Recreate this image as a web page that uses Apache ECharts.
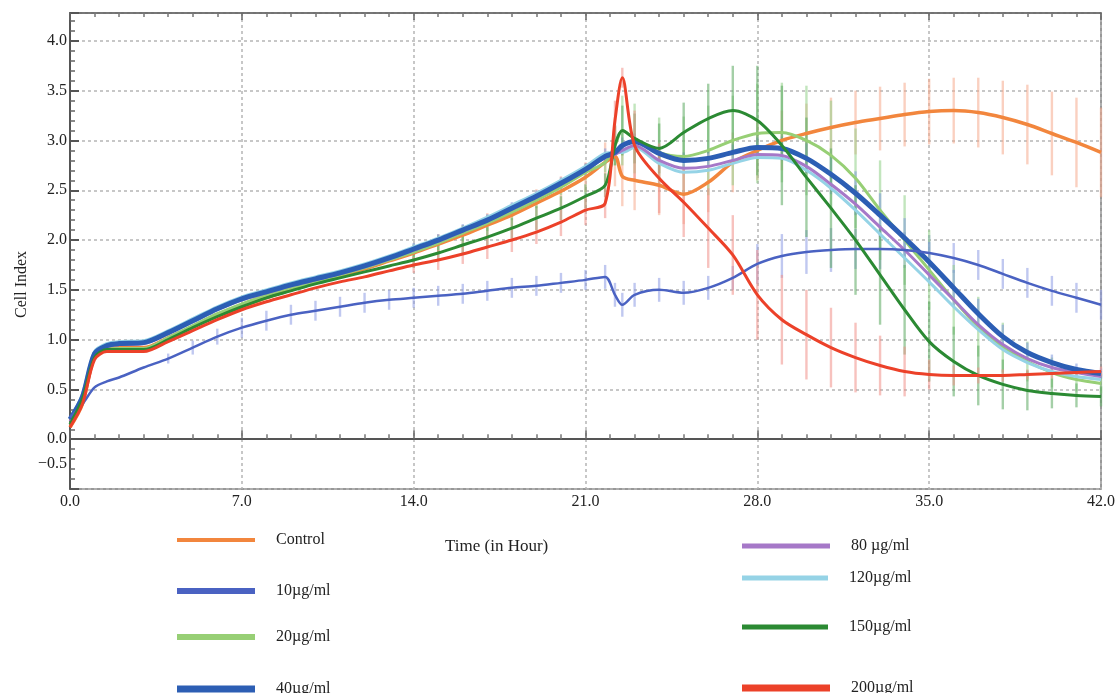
<!DOCTYPE html>
<html>
<head>
<meta charset="utf-8">
<script src="https://cdn.jsdelivr.net/npm/echarts@6/dist/echarts.min.js"></script>
<style>
  html, body { margin: 0; padding: 0; background: #fff; }
  #chart { width: 1118px; height: 693px; }
</style>
</head>
<body>
<div id="chart"></div>
<script>
// time points (hours)
var hours = [0, 0.5, 1, 1.5, 2, 3, 4, 5, 6, 7, 8, 9, 10, 11, 12, 13, 14, 15, 16, 17, 18, 19, 20, 21,
  21.8, 22.2, 22.5, 23, 24, 25, 26, 27, 28, 29, 30, 31, 32, 33, 34, 35, 36, 37, 38, 39, 40, 41, 42];

var xTicks = [0, 7, 14, 21, 28, 35, 42];
var yTicks = [-0.5, 0, 0.5, 1, 1.5, 2, 2.5, 3, 3.5, 4];

// cell index per group
var control = [0.12, 0.35, 0.83, 0.92, 0.93, 0.92, 1.02, 1.13, 1.24, 1.33, 1.42, 1.5, 1.57, 1.64, 1.71, 1.79, 1.87, 1.96, 2.05, 2.15, 2.25, 2.37, 2.49, 2.63,
  2.78, 2.84, 2.64, 2.6, 2.55, 2.46, 2.58, 2.78, 2.9, 3.0, 3.07, 3.13, 3.18, 3.22, 3.26, 3.29, 3.3, 3.28, 3.23, 3.16, 3.07, 2.98, 2.88];
var dose10 = [0.22, 0.35, 0.52, 0.58, 0.62, 0.72, 0.81, 0.92, 1.03, 1.12, 1.19, 1.25, 1.29, 1.33, 1.37, 1.4, 1.42, 1.44, 1.46, 1.49, 1.52, 1.54, 1.57, 1.6,
  1.63, 1.45, 1.35, 1.45, 1.5, 1.47, 1.52, 1.62, 1.76, 1.84, 1.88, 1.9, 1.91, 1.91, 1.9, 1.87, 1.82, 1.75, 1.66, 1.57, 1.49, 1.42, 1.35];
var dose20 = [0.15, 0.4, 0.83, 0.9, 0.91, 0.91, 1.02, 1.14, 1.26, 1.36, 1.45, 1.52, 1.58, 1.65, 1.72, 1.8, 1.88, 1.97, 2.07, 2.17, 2.28, 2.4, 2.53, 2.68,
  2.78, 2.95, 3.1, 3.02, 2.88, 2.84, 2.9, 3.0, 3.07, 3.08, 3.0, 2.85, 2.62, 2.3, 2.0, 1.7, 1.4, 1.13, 0.92, 0.78, 0.67, 0.6, 0.56];
var dose40 = [0.2, 0.42, 0.86, 0.94, 0.96, 0.97, 1.07, 1.19, 1.31, 1.41, 1.48, 1.55, 1.61, 1.67, 1.74, 1.82, 1.91, 2.0, 2.1, 2.2, 2.32, 2.44, 2.57, 2.71,
  2.84, 2.88, 2.95, 2.99, 2.87, 2.8, 2.82, 2.88, 2.93, 2.92, 2.82, 2.66, 2.47, 2.25, 2.02, 1.78, 1.52, 1.26, 1.03, 0.87, 0.77, 0.7, 0.66];
var dose80 = [0.18, 0.4, 0.85, 0.93, 0.95, 0.96, 1.06, 1.18, 1.3, 1.4, 1.47, 1.54, 1.6, 1.66, 1.73, 1.81, 1.9, 1.99, 2.09, 2.19, 2.31, 2.43, 2.56, 2.7,
  2.83, 2.86, 2.9, 2.95, 2.8, 2.72, 2.74, 2.8, 2.86, 2.85, 2.74, 2.56, 2.36, 2.13, 1.9, 1.65, 1.4, 1.15, 0.95, 0.81, 0.72, 0.67, 0.63];
var dose120 = [0.2, 0.45, 0.88, 0.96, 0.98, 0.99, 1.09, 1.21, 1.33, 1.43, 1.5, 1.57, 1.63, 1.69, 1.76, 1.84, 1.93, 2.02, 2.12, 2.23, 2.35, 2.47, 2.6, 2.74,
  2.87, 2.88, 2.88, 2.93, 2.77, 2.68, 2.7, 2.77, 2.83, 2.82, 2.7, 2.52, 2.3, 2.06, 1.82, 1.58, 1.33, 1.1, 0.9, 0.77, 0.68, 0.63, 0.6];
var dose150 = [0.15, 0.4, 0.82, 0.9, 0.9, 0.9, 1.0, 1.12, 1.23, 1.33, 1.42, 1.49, 1.56, 1.62, 1.68, 1.74, 1.8, 1.87, 1.95, 2.03, 2.12, 2.22, 2.32, 2.44,
  2.55, 2.95, 3.1, 3.02, 2.92, 3.08, 3.22, 3.3, 3.2, 2.95, 2.63, 2.32, 2.0, 1.65, 1.3, 0.98, 0.78, 0.64, 0.55, 0.49, 0.46, 0.44, 0.43];
var dose200 = [0.12, 0.35, 0.8, 0.88, 0.88, 0.88, 0.98, 1.09, 1.2, 1.3, 1.38, 1.45, 1.52, 1.58, 1.63, 1.69, 1.75, 1.8, 1.86, 1.93, 2.0, 2.08, 2.18, 2.3,
  2.37, 3.2, 3.63, 2.95, 2.62, 2.38, 2.12, 1.85, 1.45, 1.2, 1.05, 0.92, 0.82, 0.74, 0.68, 0.65, 0.64, 0.64, 0.64, 0.65, 0.66, 0.67, 0.68];

// error bar half widths (SD)
var errControl = [0.03, 0.03, 0.03, 0.03, 0.03, 0.03, 0.03, 0.03, 0.03, 0.03, 0.03, 0.03, 0.03, 0.03, 0.03, 0.03, 0.08, 0.1, 0.1, 0.12, 0.12, 0.14, 0.15, 0.15,
  0.2, 0.3, 0.3, 0.3, 0.3, 0.3, 0.3, 0.3, 0.3, 0.3, 0.3, 0.3, 0.32, 0.32, 0.32, 0.33, 0.33, 0.35, 0.37, 0.4, 0.42, 0.45, 0.45];
var err10 = [0.02, 0.02, 0.02, 0.02, 0.02, 0.02, 0.05, 0.07, 0.08, 0.1, 0.1, 0.1, 0.1, 0.1, 0.1, 0.1, 0.1, 0.1, 0.1, 0.1, 0.1, 0.1, 0.1, 0.1,
  0.12, 0.12, 0.12, 0.12, 0.12, 0.12, 0.12, 0.12, 0.2, 0.22, 0.22, 0.22, 0.2, 0.2, 0.18, 0.18, 0.15, 0.15, 0.15, 0.15, 0.15, 0.15, 0.15];
var err20 = [0.03, 0.03, 0.03, 0.03, 0.03, 0.03, 0.03, 0.03, 0.03, 0.03, 0.03, 0.03, 0.03, 0.03, 0.03, 0.03, 0.08, 0.08, 0.08, 0.08, 0.08, 0.08, 0.08, 0.08,
  0.1, 0.2, 0.35, 0.35, 0.35, 0.4, 0.45, 0.45, 0.5, 0.5, 0.55, 0.55, 0.5, 0.5, 0.45, 0.4, 0.35, 0.3, 0.25, 0.2, 0.15, 0.12, 0.1];
var err40 = [0.03, 0.03, 0.03, 0.03, 0.03, 0.03, 0.03, 0.03, 0.03, 0.03, 0.03, 0.03, 0.03, 0.03, 0.03, 0.03, 0.06, 0.06, 0.06, 0.06, 0.06, 0.06, 0.06, 0.06,
  0.08, 0.08, 0.08, 0.08, 0.08, 0.08, 0.08, 0.08, 0.1, 0.12, 0.15, 0.2, 0.22, 0.22, 0.2, 0.2, 0.18, 0.15, 0.12, 0.1, 0.08, 0.06, 0.05];
var err150 = [0.03, 0.03, 0.03, 0.03, 0.03, 0.03, 0.03, 0.03, 0.03, 0.03, 0.03, 0.03, 0.03, 0.03, 0.03, 0.03, 0.08, 0.08, 0.1, 0.1, 0.1, 0.12, 0.12, 0.12,
  0.12, 0.2, 0.25, 0.25, 0.25, 0.3, 0.35, 0.45, 0.55, 0.6, 0.6, 0.6, 0.55, 0.5, 0.45, 0.4, 0.35, 0.3, 0.25, 0.2, 0.15, 0.12, 0.1];
var err200 = [0.03, 0.03, 0.03, 0.03, 0.03, 0.03, 0.03, 0.03, 0.03, 0.03, 0.03, 0.03, 0.03, 0.03, 0.03, 0.03, 0.08, 0.1, 0.1, 0.12, 0.12, 0.12, 0.14, 0.15,
  0.15, 0.2, 0.1, 0.35, 0.35, 0.35, 0.4, 0.4, 0.45, 0.45, 0.45, 0.4, 0.35, 0.3, 0.25, 0.15, 0.1, 0.08, 0.06, 0.05, 0.05, 0.05, 0.05];

var serif = 'Liberation Serif, Times New Roman, serif';

function pairs(vals) {
  return hours.map(function (t, i) { return [t, vals[i]]; });
}
function bars(vals, errs) {
  var out = [];
  hours.forEach(function (t, i) {
    if (errs[i] >= 0.05) out.push([t, vals[i] - errs[i], vals[i] + errs[i]]);
  });
  return out;
}
function renderBar(params, api) {
  var p1 = api.coord([api.value(0), api.value(1)]);
  var p2 = api.coord([api.value(0), api.value(2)]);
  return {
    type: 'line',
    shape: { x1: p1[0], y1: p1[1], x2: p2[0], y2: p2[1] },
    style: { stroke: api.visual('color'), lineWidth: 2.4, opacity: 0.55 }
  };
}
function errSeries(name, vals, errs, color) {
  return {
    name: name, type: 'custom', renderItem: renderBar, silent: true,
    itemStyle: { color: color },
    encode: { x: 0, y: [1, 2] },
    data: bars(vals, errs), z: 1
  };
}
function lineSeries(name, vals, color, width) {
  return {
    name: name, type: 'line', data: pairs(vals), smooth: 0.3,
    showSymbol: false, color: color,
    lineStyle: { color: color, width: width }, z: 3
  };
}
function legendItem(name, left, top, w, h) {
  return {
    data: [name], left: left, top: top, icon: 'rect',
    itemWidth: w, itemHeight: h, selectedMode: false,
    textStyle: { fontFamily: serif, fontSize: 16, color: '#222', padding: [0, 0, 6, 16] }
  };
}

var myChart = echarts.init(document.getElementById('chart'));

var option = {
  backgroundColor: '#fff',
  animation: false,
  grid: { left: 70, right: 12, top: 13, bottom: 204, show: true, borderColor: '#777', borderWidth: 1.5 },
  legend: [
    legendItem('Control', 172, 527, 78, 4),
    legendItem('10µg/ml', 172, 578, 78, 6),
    legendItem('20µg/ml', 172, 624, 78, 6),
    legendItem('40µg/ml', 172, 676, 78, 7),
    legendItem('80 µg/ml', 737, 533, 88, 5),
    legendItem('120µg/ml', 737, 565, 86, 5),
    legendItem('150µg/ml', 737, 614, 86, 5),
    legendItem('200µg/ml', 737, 675, 88, 7)
  ],
  graphic: [
    { type: 'text', left: 445, top: 538, style: { text: 'Time (in Hour)', font: '17px ' + serif, fill: '#222' } },
    { type: 'text', x: 14, y: 318, rotation: Math.PI / 2, style: { text: 'Cell Index', font: '16px ' + serif, fill: '#222' } }
  ],
  xAxis: [{
    type: 'value', min: 0, max: 42, interval: 7,
    axisLine: { show: true, lineStyle: { color: '#555', width: 2 } },
    axisTick: { inside: true, length: 9, lineStyle: { color: '#666', width: 1.5 } },
    minorTick: { show: true, splitNumber: 7, length: 5, lineStyle: { color: '#777', width: 1.5 } },
    axisLabel: { margin: 5, fontFamily: serif, fontSize: 16, color: '#222',
      formatter: function (v) { return xTicks.indexOf(v) >= 0 ? v.toFixed(1) : ''; } },
    splitLine: { show: true, lineStyle: { color: '#b5b5b5', width: 1.5, type: [3, 3] } }
  }, {
    type: 'value', min: 0, max: 42, interval: 7, position: 'top',
    axisLine: { show: true, lineStyle: { color: '#666', width: 1.5 } },
    axisTick: { inside: true, length: 7, lineStyle: { color: '#666', width: 1.5 } },
    minorTick: { show: true, splitNumber: 7, length: 4, lineStyle: { color: '#777', width: 1.5 } },
    axisLabel: { show: false }, splitLine: { show: false }
  }],
  yAxis: [{
    type: 'value', min: -0.5, max: 4.28, interval: 0.5,
    axisLine: { show: true, lineStyle: { color: '#555', width: 2 } },
    axisTick: { inside: true, length: 9, lineStyle: { color: '#555', width: 2 } },
    minorTick: { show: true, splitNumber: 5, length: 5, lineStyle: { color: '#666', width: 1.5 } },
    axisLabel: {
      margin: 3, fontFamily: serif, fontSize: 16, color: '#222',
      formatter: function (v) {
        var r = Math.round(v * 10) / 10;
        if (yTicks.indexOf(r) < 0) return '';
        if (r === -0.5) return '{lo|−0.5}';
        return r.toFixed(1);
      },
      rich: { lo: { fontFamily: serif, fontSize: 16, color: '#222', padding: [0, 0, 50, 0] } }
    },
    splitLine: { show: true, lineStyle: { color: '#b5b5b5', width: 1.5, type: [3, 3] } }
  }],
  series: [
    errSeries('e-Control', control, errControl, '#f5a98c'),
    errSeries('e-10', dose10, err10, '#8d9be3'),
    errSeries('e-20', dose20, err20, '#8fcf87'),
    errSeries('e-40', dose40, err40, '#7d98dc'),
    errSeries('e-150', dose150, err150, '#5aa85f'),
    errSeries('e-200', dose200, err200, '#f08f88'),
    lineSeries('Control', control, '#f2863d', 3.5),
    lineSeries('20µg/ml', dose20, '#97cf75', 3),
    lineSeries('120µg/ml', dose120, '#95d3e6', 3),
    lineSeries('80 µg/ml', dose80, '#a678c8', 3),
    lineSeries('40µg/ml', dose40, '#2c5eb4', 5),
    lineSeries('10µg/ml', dose10, '#4a62c2', 2.5),
    lineSeries('150µg/ml', dose150, '#2b8a33', 3),
    lineSeries('200µg/ml', dose200, '#ec4129', 3)
  ]
};

myChart.setOption(option);
</script>
</body>
</html>
